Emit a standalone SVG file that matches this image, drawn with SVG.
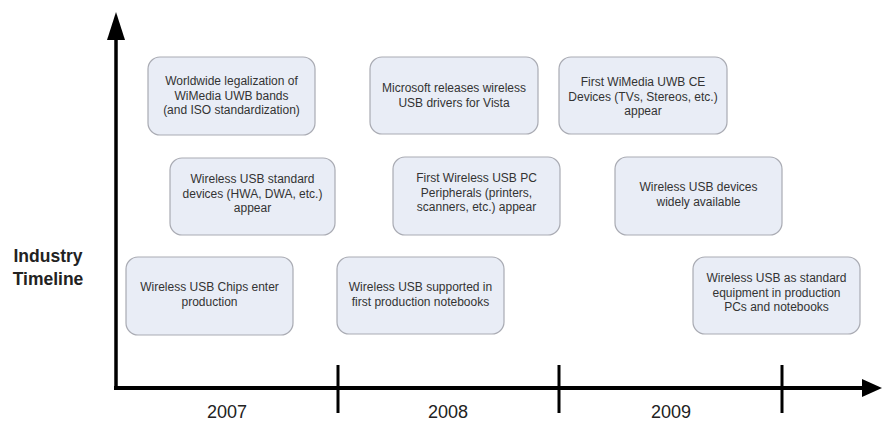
<svg xmlns="http://www.w3.org/2000/svg" width="883" height="421" viewBox="0 0 883 421">
<style>
.box{fill:#e9edf6;stroke:#a9abb3;stroke-width:1.2}
.t{font-family:"Liberation Sans",Arial,sans-serif;font-size:12px;fill:#333;text-anchor:middle}
.yr{font-family:"Liberation Sans",Arial,sans-serif;font-size:18px;fill:#222;text-anchor:middle}
.lbl{font-family:"Liberation Sans",Arial,sans-serif;font-size:17.5px;font-weight:bold;fill:#222;text-anchor:middle}
.ax{stroke:#000;fill:none}
</style>
<rect width="883" height="421" fill="#fff"/>
<g id="axes">
<line class="ax" x1="116" y1="388" x2="116" y2="36" stroke-width="3.5"/>
<polygon points="116,12 107,40 125,40" fill="#000"/>
<line class="ax" x1="114" y1="388" x2="864" y2="388" stroke-width="4"/>
<polygon points="882,388 862,379 862,397" fill="#000"/>
<line class="ax" x1="338" y1="365" x2="338" y2="413" stroke-width="3"/>
<line class="ax" x1="559" y1="365" x2="559" y2="413" stroke-width="3"/>
<line class="ax" x1="782" y1="365" x2="782" y2="413" stroke-width="3"/>
</g>
<g id="labels">
<text class="yr" x="227" y="418">2007</text>
<text class="yr" x="448" y="418">2008</text>
<text class="yr" x="671" y="418">2009</text>
<text class="lbl" x="48" y="262">Industry</text>
<text class="lbl" x="48" y="285">Timeline</text>
</g>
<g id="n1"><rect class="box" x="148" y="57" width="167" height="78" rx="12"/>
<text class="t" x="231.5" y="85">Worldwide legalization of</text>
<text class="t" x="231.5" y="99.5">WiMedia UWB bands</text>
<text class="t" x="231.5" y="114">(and ISO standardization)</text></g>
<g id="n2"><rect class="box" x="370" y="57" width="168" height="77" rx="12"/>
<text class="t" x="454" y="92">Microsoft releases wireless</text>
<text class="t" x="454" y="107">USB drivers for Vista</text></g>
<g id="n3"><rect class="box" x="559" y="57" width="168" height="77" rx="12"/>
<text class="t" x="643" y="86">First WiMedia UWB CE</text>
<text class="t" x="643" y="100.5">Devices (TVs, Stereos, etc.)</text>
<text class="t" x="643" y="115">appear</text></g>
<g id="n4"><rect class="box" x="170" y="158" width="165" height="77" rx="12"/>
<text class="t" x="252.5" y="183">Wireless USB standard</text>
<text class="t" x="252.5" y="197.5">devices (HWA, DWA, etc.)</text>
<text class="t" x="252.5" y="212">appear</text></g>
<g id="n5"><rect class="box" x="393" y="157" width="167" height="78" rx="12"/>
<text class="t" x="476.5" y="182">First Wireless USB PC</text>
<text class="t" x="476.5" y="196.5">Peripherals (printers,</text>
<text class="t" x="476.5" y="211">scanners, etc.) appear</text></g>
<g id="n6"><rect class="box" x="615" y="157" width="167" height="78" rx="12"/>
<text class="t" x="698.5" y="191">Wireless USB devices</text>
<text class="t" x="698.5" y="206">widely available</text></g>
<g id="n7"><rect class="box" x="126" y="257" width="167" height="78" rx="12"/>
<text class="t" x="209.5" y="291">Wireless USB Chips enter</text>
<text class="t" x="209.5" y="306">production</text></g>
<g id="n8"><rect class="box" x="337" y="257" width="167" height="77" rx="12"/>
<text class="t" x="420.5" y="291">Wireless USB supported in</text>
<text class="t" x="420.5" y="306">first production notebooks</text></g>
<g id="n9"><rect class="box" x="693" y="257" width="167" height="77" rx="12"/>
<text class="t" x="776.5" y="282">Wireless USB as standard</text>
<text class="t" x="776.5" y="296.5">equipment in production</text>
<text class="t" x="776.5" y="311">PCs and notebooks</text></g>
</svg>
